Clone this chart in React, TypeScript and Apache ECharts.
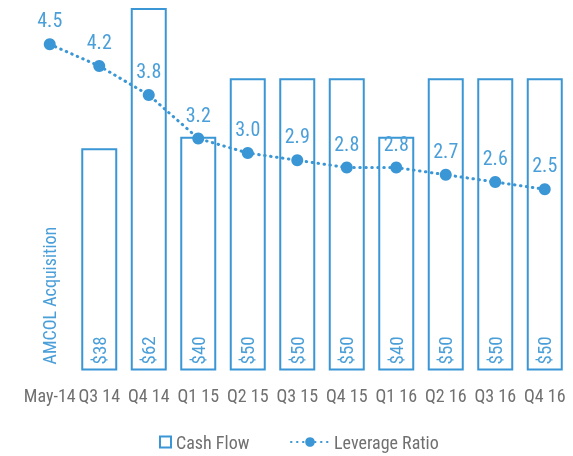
import React, { useEffect, useRef } from "react";
import * as echarts from "echarts";

const categories = ["May-14", "Q3 14", "Q4 14", "Q1 15", "Q2 15", "Q3 15", "Q4 15", "Q1 16", "Q2 16", "Q3 16", "Q4 16"];
const cashFlow: (number | null)[] = [null, 38, 62, 40, 50, 50, 50, 40, 50, 50, 50];
const leverage = [4.5, 4.2, 3.8, 3.2, 3.0, 2.9, 2.8, 2.8, 2.7, 2.6, 2.5];
const annotationText = "AMCOL Acquisition";
const cashFlowName = "Cash Flow";
const leverageName = "Leverage Ratio";

const BLUE = "#3a96d5";
const TEXT_BLUE = "#4a9fd9";
const GRAY = "#707070";
const FONT = "'Roboto Condensed', 'Liberation Sans Narrow', sans-serif";

export default function App() {
  const ref = useRef<HTMLDivElement>(null);
  useEffect(() => {
    if (!ref.current) return;
    const chart = echarts.init(ref.current, undefined, { renderer: "svg" });
    const barData = cashFlow.map((v) =>
      v === null
        ? {
            value: 0,
            itemStyle: { borderWidth: 0, color: "transparent" },
            label: { formatter: annotationText, fontSize: 18 },
          }
        : { value: v }
    );
    chart.setOption({
      animation: false,
      textStyle: { fontFamily: FONT },
      grid: { left: 25, right: 3.5, top: 8, bottom: 85.5, containLabel: false },
      legend: [
        {
          data: [{ name: cashFlowName, icon: "rect" }],
          left: 154,
          top: 428,
          itemWidth: 11,
          itemHeight: 11,
          itemGap: 8,
          textStyle: { fontFamily: FONT, fontSize: 18, color: GRAY },
          selectedMode: false,
        },
        {
          data: [{ name: leverageName }],
          left: 285,
          top: 428,
          itemWidth: 38,
          itemHeight: 12,
          textStyle: { fontFamily: FONT, fontSize: 18, color: GRAY },
          selectedMode: false,
        },
      ],
      xAxis: {
        type: "category",
        data: categories,
        axisLine: { show: false },
        axisTick: { show: false },
        axisLabel: { color: GRAY, fontSize: 18, fontFamily: FONT, margin: 16, interval: 0 },
      },
      yAxis: [
        { type: "value", min: 0, max: 62, show: false },
        { type: "value", min: 0, max: 5, show: false },
      ],
      series: [
        {
          name: cashFlowName,
          type: "bar",
          yAxisIndex: 0,
          data: barData,
          barWidth: 36,
          itemStyle: { color: "transparent", borderColor: BLUE, borderWidth: 2 },
          label: {
            show: true,
            position: "insideBottom",
            rotate: 90,
            align: "left",
            verticalAlign: "middle",
            distance: 6,
            formatter: (p: any) => "$" + p.value,
            color: TEXT_BLUE,
            fontSize: 19,
            fontFamily: FONT,
          },
          z: 1,
        },
        {
          name: leverageName,
          type: "line",
          yAxisIndex: 1,
          data: leverage,
          symbol: "circle",
          symbolSize: 12,
          itemStyle: { color: BLUE },
          lineStyle: { color: BLUE, width: 3, type: [0.5, 5.5], cap: "round" },
          label: {
            show: true,
            position: "top",
            distance: 8,
            formatter: (p: any) => Number(p.value).toFixed(1),
            color: TEXT_BLUE,
            fontSize: 20,
            fontFamily: FONT,
          },
          z: 3,
        },
      ],
    });
    return () => chart.dispose();
  }, []);
  return <div ref={ref} style={{ position: "fixed", left: 0, top: 0, width: 573, height: 456 }} />;
}
